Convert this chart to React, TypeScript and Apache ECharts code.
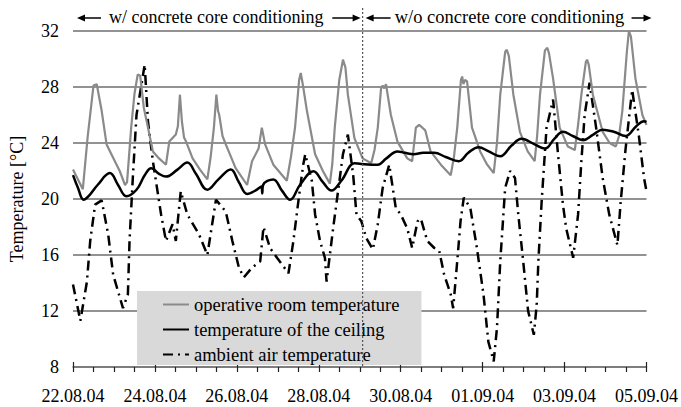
import React, { useEffect, useRef } from "react";
import * as echarts from "echarts";

const tickLabels = ["22.08.04", "24.08.04", "26.08.04", "28.08.04", "30.08.04", "01.09.04", "03.09.04", "05.09.04"];
const seriesNames = ["operative room temperature", "temperature of the ceiling", "ambient air temperature"];
const splitDay = 7.07;
const annotations = ["w/ concrete core conditioning", "w/o concrete core conditioning"];

const opDays = [0, 0.24, 0.36, 0.5, 0.58, 0.7, 0.82, 1.14, 1.27, 1.32, 1.42, 1.5, 1.58, 1.64, 1.73, 1.83, 1.95, 2.1, 2.27, 2.35, 2.51, 2.56, 2.61, 2.66, 2.71, 2.76, 2.92, 3.1, 3.28, 3.36, 3.44, 3.5, 3.54, 3.57, 3.65, 3.73, 3.97, 4.25, 4.37, 4.53, 4.61, 4.69, 4.89, 5.22, 5.32, 5.42, 5.52, 5.56, 5.62, 5.71, 5.91, 6.1, 6.27, 6.33, 6.39, 6.5, 6.59, 6.65, 6.71, 6.87, 7.07, 7.28, 7.36, 7.44, 7.52, 7.56, 7.6, 7.64, 7.76, 7.92, 8.16, 8.28, 8.37, 8.45, 8.6, 8.73, 8.98, 9.22, 9.3, 9.38, 9.47, 9.5, 9.53, 9.57, 9.62, 9.74, 9.94, 10.1, 10.27, 10.35, 10.43, 10.55, 10.59, 10.64, 10.75, 10.91, 11.1, 11.27, 11.33, 11.4, 11.52, 11.58, 11.62, 11.72, 11.88, 12.08, 12.25, 12.33, 12.41, 12.52, 12.55, 12.59, 12.69, 12.93, 13.1, 13.25, 13.33, 13.41, 13.52, 13.57, 13.62, 13.73, 13.9, 14.0];
const opTemp = [22.1, 20.7, 24.5, 28.1, 28.2, 26.3, 23.9, 22.0, 21.0, 21.2, 25.1, 27.5, 28.9, 28.8, 26.5, 25.1, 23.4, 22.9, 22.45, 24.1, 24.6, 25.2, 27.45, 25.5, 24.4, 24.1, 22.9, 22.1, 21.4, 23.0, 25.1, 27.45, 26.3, 26.0, 24.5, 23.9, 22.2, 21.0, 22.7, 23.6, 25.1, 23.9, 22.45, 21.3, 23.0, 25.1, 28.5, 29.0, 28.0, 26.3, 23.2, 22.0, 21.1, 22.5, 25.1, 28.5, 29.95, 29.4, 27.45, 24.35, 22.9, 22.55, 23.5, 25.1, 27.9, 28.1, 27.9, 28.2, 26.0, 24.1, 22.9, 22.7, 25.1, 25.3, 24.9, 23.4, 22.45, 21.7, 23.0, 25.1, 28.5, 28.75, 28.2, 28.5, 28.4, 25.1, 23.4, 22.5, 21.85, 24.0, 27.45, 30.5, 30.66, 30.2, 27.45, 24.8, 23.4, 22.7, 24.5, 27.45, 30.6, 30.8, 30.4, 28.6, 25.1, 23.75, 23.5, 25.3, 27.45, 29.8, 29.95, 29.6, 27.45, 24.8, 24.0, 23.75, 24.5, 26.3, 30.5, 32.0, 31.6, 28.6, 26.0, 25.3];

const ceilDays = [0, 0.12, 0.26, 0.38, 0.6, 0.9, 1.1, 1.3, 1.55, 1.75, 1.91, 2.1, 2.27, 2.55, 2.79, 3.0, 3.28, 3.55, 3.85, 4.05, 4.25, 4.45, 4.6, 4.62, 4.64, 4.89, 5.1, 5.3, 5.54, 5.87, 6.1, 6.31, 6.55, 6.87, 7.04, 7.44, 7.65, 7.92, 8.1, 8.32, 8.55, 8.82, 9.1, 9.42, 9.65, 9.9, 10.15, 10.43, 10.7, 10.95, 11.27, 11.52, 11.75, 11.96, 12.2, 12.45, 12.7, 12.93, 13.2, 13.49, 13.75, 13.94, 14.0];
const ceilTemp = [21.7, 20.8, 19.95, 20.2, 21.0, 21.85, 21.0, 20.2, 20.66, 21.7, 22.2, 21.8, 21.6, 22.1, 22.6, 21.8, 20.66, 21.4, 22.1, 21.2, 20.36, 20.6, 20.9, 20.4, 21.0, 21.4, 20.6, 19.95, 21.0, 21.98, 21.2, 20.6, 21.3, 22.55, 22.5, 22.45, 22.9, 23.4, 23.3, 23.2, 23.3, 23.3, 23.0, 22.7, 23.3, 23.7, 23.4, 23.05, 23.8, 24.3, 23.9, 23.6, 24.3, 24.8, 24.5, 24.2, 24.6, 24.95, 24.8, 24.5, 25.2, 25.55, 25.5];

const ambDays = [0, 0.18, 0.34, 0.42, 0.54, 0.7, 0.86, 0.98, 1.22, 1.34, 1.38, 1.46, 1.55, 1.75, 1.83, 1.95, 2.15, 2.27, 2.43, 2.51, 2.63, 2.79, 3.08, 3.28, 3.49, 3.73, 3.89, 4.05, 4.17, 4.37, 4.57, 4.65, 4.81, 4.98, 5.26, 5.38, 5.5, 5.62, 5.67, 5.83, 5.91, 6.03, 6.15, 6.19, 6.35, 6.47, 6.59, 6.71, 6.84, 6.92, 7.04, 7.16, 7.32, 7.44, 7.56, 7.72, 7.88, 8.0, 8.16, 8.28, 8.41, 8.49, 8.65, 8.82, 8.94, 9.06, 9.22, 9.28, 9.38, 9.46, 9.54, 9.7, 9.86, 10.02, 10.14, 10.27, 10.35, 10.43, 10.55, 10.67, 10.79, 10.87, 10.99, 11.11, 11.25, 11.32, 11.36, 11.44, 11.56, 11.72, 11.84, 11.96, 12.04, 12.21, 12.33, 12.41, 12.49, 12.61, 12.77, 12.93, 13.09, 13.29, 13.37, 13.49, 13.65, 13.81, 13.94, 14.0];
const ambTemp = [13.9, 11.3, 14.1, 17.0, 19.6, 19.9, 17.45, 14.6, 12.2, 13.2, 17.0, 21.5, 26.0, 29.6, 25.55, 22.7, 18.9, 17.0, 18.2, 17.0, 20.55, 18.9, 17.45, 16.0, 19.95, 19.1, 17.0, 15.1, 14.4, 15.1, 15.55, 18.0, 16.5, 15.8, 14.7, 17.0, 19.8, 22.45, 23.2, 21.3, 18.9, 17.0, 15.8, 14.1, 17.9, 20.55, 23.2, 24.6, 21.7, 18.9, 18.4, 17.2, 16.4, 18.2, 20.8, 22.45, 19.35, 18.9, 17.9, 16.5, 18.4, 18.6, 17.0, 16.5, 16.3, 14.6, 13.2, 12.2, 15.55, 18.4, 20.1, 19.35, 16.5, 13.2, 9.8, 8.4, 10.8, 15.55, 20.8, 22.0, 21.5, 18.9, 15.55, 12.0, 10.3, 12.45, 15.55, 19.8, 25.1, 27.1, 23.2, 19.6, 17.9, 15.8, 18.9, 22.7, 26.0, 28.3, 25.1, 21.5, 18.9, 16.7, 19.8, 23.6, 27.8, 24.6, 21.5, 20.55];

const FONT = "Liberation Serif";
const pair = (d: number[], t: number[]) => d.map((x, i) => [x, t[i]]);

export default function App() {
  const ref = useRef<HTMLDivElement>(null);
  useEffect(() => {
    if (!ref.current) return;
    const chart = echarts.init(ref.current, undefined, { renderer: "svg" });
    const axisCommon = { type: "value" as const, min: 0, max: 14, interval: 2 };
    chart.setOption({
      animation: false,
      grid: { left: 71, right: 31, top: 31, bottom: 40 },
      textStyle: { fontFamily: FONT },
      legend: {
        orient: "vertical",
        left: 137,
        top: 291,
        padding: [4, 22, 1, 25],
        itemGap: 6,
        itemWidth: 26,
        itemHeight: 14,
        backgroundColor: "#d9d9d9",
        data: seriesNames,
        itemStyle: { opacity: 0 },
        textStyle: { fontFamily: FONT, fontSize: 18.5, color: "#000", lineHeight: 18 },
      },
      xAxis: [
        {
          ...axisCommon,
          axisLine: { lineStyle: { color: "#777", width: 1.5 } },
          axisTick: { length: 5, lineStyle: { color: "#222", width: 1.2 } },
          minorTick: { show: true, splitNumber: 4, length: 5, lineStyle: { color: "#222", width: 1.2 } },
          splitLine: { show: false },
          axisLabel: {
            margin: 20,
            fontFamily: FONT,
            fontSize: 18,
            color: "#000",
            formatter: (v: number) => tickLabels[Math.round(v / 2)] ?? "",
          },
        },
        {
          ...axisCommon,
          position: "bottom",
          axisLine: { show: false },
          axisTick: { inside: true, length: 5, lineStyle: { color: "#222", width: 1.2 } },
          axisLabel: { show: false },
          splitLine: { show: false },
        },
      ],
      yAxis: {
        type: "value",
        min: 8,
        max: 32,
        interval: 4,
        name: "Temperature [°C]",
        nameLocation: "middle",
        nameRotate: 90,
        nameGap: 47,
        nameTextStyle: { fontFamily: FONT, fontSize: 18, color: "#000" },
        axisLine: { show: false },
        axisTick: { show: false },
        splitLine: { lineStyle: { color: "#6e6e6e", width: 1.5 } },
        axisLabel: { margin: 14, fontFamily: FONT, fontSize: 18, color: "#000" },
      },
      series: [
        {
          name: seriesNames[0],
          type: "line",
          showSymbol: false,
          symbol: "none",
          data: pair(opDays, opTemp),
          lineStyle: { color: "#8a8a8a", width: 2.2 },
          itemStyle: { color: "#8a8a8a" },
          z: 3,
        },
        {
          name: seriesNames[1],
          type: "line",
          showSymbol: false,
          symbol: "none",
          smooth: 0.4,
          data: pair(ceilDays, ceilTemp),
          lineStyle: { color: "#000", width: 2.5 },
          itemStyle: { color: "#000" },
          z: 4,
        },
        {
          name: seriesNames[2],
          type: "line",
          showSymbol: false,
          symbol: "none",
          data: pair(ambDays, ambTemp),
          lineStyle: { color: "#000", width: 2.5, type: [10, 5, 2, 5] },
          itemStyle: { color: "#000" },
          z: 2,
        },
      ],
    });

    const sx = chart.convertToPixel({ xAxisIndex: 0 }, splitDay) as number;
    const x0 = chart.convertToPixel({ xAxisIndex: 0 }, 0) as number;
    const x14 = chart.convertToPixel({ xAxisIndex: 0 }, 14) as number;
    const yBottom = chart.convertToPixel({ yAxisIndex: 0 }, 8) as number;
    const ay = 18;
    const arrow = (from: number, to: number) => {
      const dir = to > from ? 1 : -1;
      return [
        { type: "line", shape: { x1: from, y1: ay, x2: to - dir * 6, y2: ay }, style: { stroke: "#000", lineWidth: 1.5 }, z: 10 },
        {
          type: "polygon",
          shape: { points: [[to, ay], [to - dir * 8, ay - 3.5], [to - dir * 8, ay + 3.5]] },
          style: { fill: "#000" },
          z: 10,
        },
      ];
    };
    const leftCenter = (x0 + 4 + sx - 1) / 2 - 3;
    const rightCenter = (sx + 3 + x14 + 5) / 2 + 1;
    chart.setOption({
      graphic: [
        {
          type: "line",
          shape: { x1: sx, y1: 8, x2: sx, y2: yBottom },
          style: { stroke: "#555", lineWidth: 1.2, lineDash: [2, 2] },
          z: 10,
        },
        ...arrow(x0 + 28, x0 + 4),
        {
          type: "text",
          x: leftCenter,
          y: 17,
          style: { text: annotations[0], fontFamily: FONT, fontSize: 18, fill: "#000", align: "center", verticalAlign: "middle" },
          z: 10,
        },
        ...arrow(leftCenter + 116, sx - 2),
        ...arrow(sx + 28, sx + 3),
        {
          type: "text",
          x: rightCenter,
          y: 17,
          style: { text: annotations[1], fontFamily: FONT, fontSize: 18.5, fill: "#000", align: "center", verticalAlign: "middle" },
          z: 10,
        },
        ...arrow(rightCenter + 122, x14 + 5),
      ],
    });
    return () => chart.dispose();
  }, []);
  return <div ref={ref} style={{ position: "absolute", left: 0, top: 0, width: 681, height: 407 }} />;
}
